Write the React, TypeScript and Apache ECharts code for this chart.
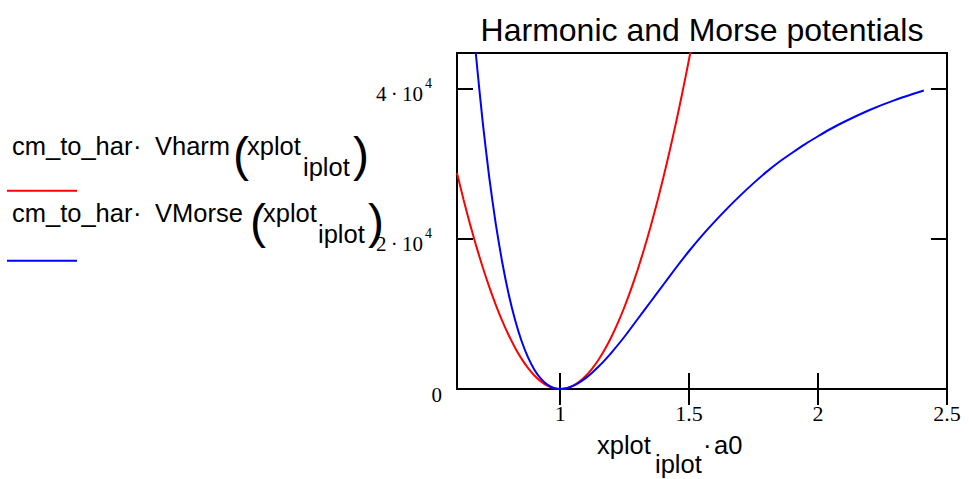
import React, { useEffect, useRef } from 'react';
import * as echarts from 'echarts';

// Harmonic potential (red)
const harmX = [0.6, 0.625, 0.65, 0.675, 0.7, 0.725, 0.75, 0.775, 0.8, 0.825, 0.85, 0.875, 0.9, 0.925, 0.95, 0.975, 1.0,
  1.025, 1.05, 1.075, 1.1, 1.125, 1.15, 1.175, 1.2, 1.225, 1.25, 1.275, 1.3, 1.325, 1.35, 1.375, 1.4, 1.425, 1.45, 1.475, 1.5, 1.525];
const harmY = [28800, 25313, 22050, 19013, 16200, 13613, 11250, 9113, 7200, 5513, 4050, 2813, 1800, 1013, 450, 113, 0,
  110, 440, 990, 1760, 2750, 3960, 5390, 7040, 8910, 11000, 13310, 15840, 18590, 21560, 24750, 28160, 31790, 35640, 39710, 44000, 48510];

// Morse potential (blue)
const morseX = [0.65, 0.675, 0.7, 0.725, 0.75, 0.775, 0.8, 0.825, 0.85, 0.875, 0.9, 0.925, 0.95, 0.975, 1.0,
  1.025, 1.05, 1.075, 1.1, 1.125, 1.15, 1.175, 1.2, 1.25, 1.3, 1.35, 1.4, 1.45, 1.5, 1.55, 1.6, 1.65, 1.7, 1.75, 1.8,
  1.85, 1.9, 1.95, 2.0, 2.05, 2.1, 2.2, 2.3, 2.41];
const morseY = [53960, 44000, 35480, 28230, 22090, 16960, 12700, 9220, 6430, 4240, 2573, 1375, 581, 138, 0,
  107, 408, 873, 1479, 2202, 3023, 3924, 4891, 7000, 9300, 11600, 13900, 16200, 18400, 20450, 22350, 24150, 25850, 27450, 28950,
  30300, 31500, 32650, 33700, 34700, 35600, 37200, 38550, 39800];

const xTicks = [1, 1.5, 2, 2.5];
const xTickLabels = ['1', '1.5', '2', '2.5'];
const yTicks = [0, 20000, 40000];
const yTickMantissa = ['0', '2\u2009·\u200910', '4\u2009·\u200910'];
const yTickExponent = ['', '4', '4'];

const titleText = 'Harmonic and Morse potentials';
const legendNames = ['cm_to_har', 'cm_to_har'];
const legendFuncs = ['Vharm', 'VMorse'];
const argMain = 'xplot';
const argSub = 'iplot';
const xNameMain = 'xplot';
const xNameSub = 'iplot';
const xNameTail = 'a0';

const SANS = '"Liberation Sans", Arial, sans-serif';
const SERIF = '"Liberation Serif", "Times New Roman", serif';

export default function App() {
  const ref = useRef<HTMLDivElement>(null);
  useEffect(() => {
    if (!ref.current) return;
    const chart = echarts.init(ref.current, null, { renderer: 'svg' });
    const tickStyle = { color: '#000', width: 2 };
    const option: any = {
      animation: false,
      grid: { left: 457, right: 22, top: 53, bottom: 90, show: true, borderColor: '#000', borderWidth: 2, backgroundColor: 'transparent' },
      xAxis: [
        {
          type: 'value', min: 0.6, max: 2.5, position: 'bottom',
          axisLine: { show: false }, splitLine: { show: false },
          axisTick: { show: true, inside: true, length: 16, customValues: xTicks, lineStyle: tickStyle },
          axisLabel: {
            customValues: xTicks, margin: 13, color: '#000', fontFamily: SERIF, fontSize: 22,
            formatter: (v: number) => { const i = xTicks.indexOf(v); return i >= 0 ? xTickLabels[i] : ''; },
          },
        },
        {
          type: 'value', min: 0.6, max: 2.5, position: 'top',
          axisLine: { show: false }, splitLine: { show: false },
          axisTick: { show: true, inside: true, length: 16, customValues: xTicks, lineStyle: tickStyle },
          axisLabel: { show: false },
        },
      ],
      yAxis: [
        {
          type: 'value', min: 0, max: 44800, position: 'left',
          axisLine: { show: false }, splitLine: { show: false },
          axisTick: { show: true, inside: true, length: 16, customValues: yTicks, lineStyle: tickStyle },
          axisLabel: { show: false },
        },
        {
          type: 'value', min: 0, max: 44800, position: 'right',
          axisLine: { show: false }, splitLine: { show: false },
          axisTick: { show: true, inside: true, length: 16, customValues: yTicks, lineStyle: tickStyle },
          axisLabel: { show: false },
        },
      ],
      series: [
        {
          name: 'Vharm', type: 'line', xAxisIndex: 0, yAxisIndex: 0, showSymbol: false, clip: true, smooth: 0.2,
          lineStyle: { color: '#ff0000', width: 2 }, itemStyle: { color: '#ff0000' },
          data: harmX.map((x, i) => [x, harmY[i]]),
        },
        {
          name: 'VMorse', type: 'line', xAxisIndex: 0, yAxisIndex: 0, showSymbol: false, clip: true, smooth: 0.2,
          lineStyle: { color: '#0000ff', width: 2 }, itemStyle: { color: '#0000ff' },
          data: morseX.map((x, i) => [x, morseY[i]]),
        },
      ],
    };
    chart.setOption(option);

    const txt = (x: number, y: number, text: string, size: number, family: string, align: string, va: string) => ({
      type: 'text', x, y, silent: true,
      style: { text, fill: '#000', fontSize: size, fontFamily: family, align, verticalAlign: va },
    });
    // place text by its baseline (central baseline = baseline - 0.3465em for Liberation Sans)
    const sans = (x: number, baseline: number, text: string, size: number, align = 'left') =>
      txt(x, baseline - 0.3465 * size, text, size, SANS, align, 'middle');

    const g: any[] = [];
    // title
    g.push(sans(702, 41, titleText, 32, 'center'));
    // legend entries
    const rows = [
      { base: 155, sub: 176, parenBase: 171, lp: 233, am: 247, as: 303, rp: 353, line: 190.7, color: '#ff0000' },
      { base: 222, sub: 243, parenBase: 238, lp: 250, am: 263, as: 318, rp: 368, line: 260.7, color: '#0000ff' },
    ];
    const FS = 25.5;
    rows.forEach((r, i) => {
      g.push(sans(12, r.base, legendNames[i], FS));
      g.push(sans(133, r.base, '·', FS));
      g.push(sans(155, r.base, legendFuncs[i], FS));
      g.push(sans(r.lp, r.parenBase, '(', 48));
      g.push(sans(r.am, r.base, argMain, FS));
      g.push(sans(r.as, r.sub, argSub, FS));
      g.push(sans(r.rp, r.parenBase, ')', 48));
      g.push({ type: 'line', silent: true, shape: { x1: 7, y1: r.line, x2: 77, y2: r.line }, style: { stroke: r.color, lineWidth: 2 } });
    });
    // x axis name
    g.push(sans(597, 454, xNameMain, FS));
    g.push(sans(655, 473, xNameSub, FS));
    g.push(sans(703, 454, '·', FS));
    g.push(sans(714, 454, xNameTail, FS));
    // y tick labels
    yTicks.forEach((v, i) => {
      const py = chart.convertToPixel({ yAxisIndex: 0 }, v) as number;
      if (yTickExponent[i]) {
        g.push(txt(423, py + 4.5, yTickMantissa[i], 21, SERIF, 'right', 'middle'));
        g.push(txt(425, py - 6, yTickExponent[i], 14, SERIF, 'left', 'middle'));
      } else {
        g.push(txt(442, py + 6, yTickMantissa[i], 21, SERIF, 'right', 'middle'));
      }
    });
    chart.setOption({ graphic: g });
    return () => chart.dispose();
  }, []);
  return <div ref={ref} style={{ position: 'fixed', left: 0, top: 0, width: 969, height: 479, background: '#fff' }} />;
}
